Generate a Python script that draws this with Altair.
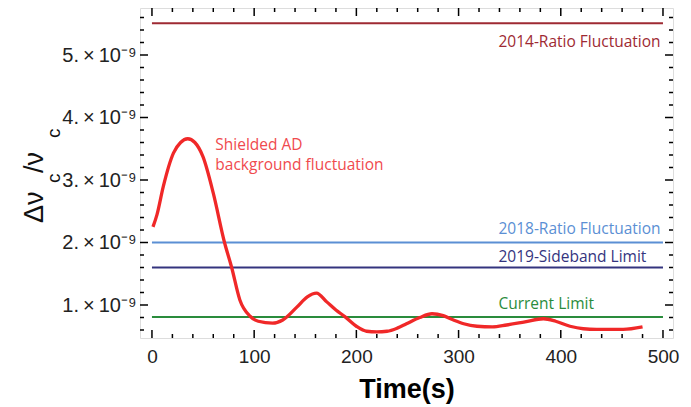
import altair as alt
import pandas as pd

# ---- data ----
curve_t = [1, 5, 11, 21, 28, 35, 42, 50, 60, 71, 78, 86, 96, 104, 118, 128, 142, 152, 161, 171,
           180, 189, 200, 210, 220, 230, 240, 249, 262, 274, 285, 295, 305, 318, 333, 347, 365,
           383, 395, 409, 422, 435, 461, 480]
curve_v = [2.25, 2.45, 2.89, 3.43, 3.60, 3.66, 3.60, 3.37, 2.79, 2.00, 1.60, 1.08, 0.82, 0.74,
           0.71, 0.76, 0.97, 1.13, 1.19, 1.05, 0.92, 0.81, 0.66, 0.58, 0.57, 0.58, 0.63, 0.70,
           0.80, 0.86, 0.83, 0.76, 0.70, 0.66, 0.65, 0.68, 0.73, 0.78, 0.74, 0.66, 0.62, 0.61,
           0.61, 0.65]

limit_names = ["2014-Ratio Fluctuation", "2018-Ratio Fluctuation", "2019-Sideband Limit", "Current Limit"]
limit_values = [5.51, 2.00, 1.60, 0.81]
limit_start = [0, 0, 0, 0]
limit_end = [500, 500, 500, 500]
limit_colors = ["#9e2a33", "#5b8fd4", "#34347e", "#2a8c3c"]
label_t = [339, 339, 339, 339]
label_v = [5.21, 2.22, 1.77, 1.02]

curve_label_lines = ["Shielded AD", "background fluctuation"]
curve_label_t = [62, 62]
curve_label_v = [3.56, 3.24]

x_major = [0, 100, 200, 300, 400, 500]
x_minor = [t for t in range(20, 500, 20) if t % 100 != 0]
y_major = [1, 2, 3, 4, 5]
y_minor = [0.6, 0.8, 1.2, 1.4, 1.6, 1.8, 2.2, 2.4, 2.6, 2.8, 3.2, 3.4, 3.6, 3.8,
           4.2, 4.4, 4.6, 4.8, 5.2, 5.4, 5.6]

X_DOMAIN = [-11.7, 509.8]
Y_DOMAIN = [0.472, 5.752]
W, H = 533, 330

xs = alt.Scale(domain=X_DOMAIN, nice=False, zero=False)
ys = alt.Scale(domain=Y_DOMAIN, nice=False, zero=False)

curve_df = pd.DataFrame({"t": curve_t, "v": curve_v})
lim_df = pd.DataFrame({"name": limit_names, "v": limit_values, "t0": limit_start, "t1": limit_end,
                       "lt": label_t, "lv": label_v})
cl_df = pd.DataFrame({"txt": curve_label_lines, "t": curve_label_t, "v": curve_label_v})

color = alt.Color("name:N", scale=alt.Scale(domain=limit_names, range=limit_colors), legend=None)

xaxis = alt.Axis(values=x_major, ticks=False, domain=False, grid=False, labelFontSize=19,
                 labelColor="#222222", labelPadding=9, labelFont="Liberation Sans",
                 title="Time(s)", titleFontSize=27, titleFontWeight="bold",
                 titleFont="Liberation Sans", titleColor="#000000", titlePadding=10)
yaxis = alt.Axis(values=y_major, ticks=False, domain=False, grid=False, labelFontSize=20,
                 labelColor="#222222", labelPadding=4, labelFont="Liberation Sans",
                 labelExpr="datum.value + '.\u2009\u00d7\u200910\u207b\u2079'", title=None)

base = alt.Chart(curve_df)

curve = base.mark_line(color="#f02828", strokeWidth=3.3, interpolate="monotone").encode(
    x=alt.X("t:Q", scale=xs, axis=xaxis),
    y=alt.Y("v:Q", scale=ys, axis=yaxis),
)

limits = alt.Chart(lim_df).mark_rule(strokeWidth=2).encode(
    x=alt.X("t0:Q", scale=xs), x2="t1:Q", y=alt.Y("v:Q", scale=ys), color=color)

limit_text = alt.Chart(lim_df).mark_text(align="left", baseline="middle", fontSize=15.5,
                                          font="Open Sans").encode(
    x=alt.X("lt:Q", scale=xs), y=alt.Y("lv:Q", scale=ys), text="name:N", color=color)

curve_text = alt.Chart(cl_df).mark_text(align="left", baseline="middle", fontSize=15.5,
                                         font="Open Sans", color="#f04a4e").encode(
    x=alt.X("t:Q", scale=xs), y=alt.Y("v:Q", scale=ys), text="txt:N")


def tick_layer(values, field_axis, side, length):
    df = pd.DataFrame({"val": values})
    c = alt.Chart(df).mark_rule(color="#000000", strokeWidth=1.5)
    if field_axis == "x":
        enc = dict(x=alt.X("val:Q", scale=xs))
        if side == "bottom":
            enc.update(y=alt.value(H), y2=alt.value(H - length))
        else:
            enc.update(y=alt.value(0), y2=alt.value(length))
    else:
        enc = dict(y=alt.Y("val:Q", scale=ys))
        if side == "left":
            enc.update(x=alt.value(0), x2=alt.value(length))
        else:
            enc.update(x=alt.value(W), x2=alt.value(W - length))
    return c.encode(**enc)


ticks = [
    tick_layer(x_major, "x", "bottom", 8), tick_layer(x_minor, "x", "bottom", 4),
    tick_layer(x_major, "x", "top", 8), tick_layer(x_minor, "x", "top", 4),
    tick_layer(y_major, "y", "left", 8), tick_layer(y_minor, "y", "left", 4),
    tick_layer(y_major, "y", "right", 8), tick_layer(y_minor, "y", "right", 4),
]

# y-axis title assembled from pieces (with subscripts), rotated
ytitle_pieces = ["\u0394\u03bd", "c", "/\u03bd", "c"]
ytitle_x = [-97, -80, -97, -80]
ytitle_y = [215, 175, 165, 130]
ytitle_size = [27, 19, 27, 19]
ytitle_layers = []
for txt, px, py, fs in zip(ytitle_pieces, ytitle_x, ytitle_y, ytitle_size):
    ytitle_layers.append(
        alt.Chart(pd.DataFrame({"s": [txt]})).mark_text(
            angle=270, align="left", baseline="alphabetic", fontSize=fs,
            font="Liberation Sans", color="#111111").encode(
            x=alt.value(px), y=alt.value(py), text="s:N", angle=alt.value(270)))

chart = alt.layer(limits, curve, limit_text, curve_text, *ticks, *ytitle_layers).properties(
    width=W, height=H,
    autosize=alt.AutoSizeParams(type="none"),
    padding={"left": 132, "top": 0, "right": 10, "bottom": 67},
).configure_view(stroke="#000000", strokeWidth=2).configure(background="white")

chart.save("out.html", embed_options={"renderer": "svg", "actions": False})
